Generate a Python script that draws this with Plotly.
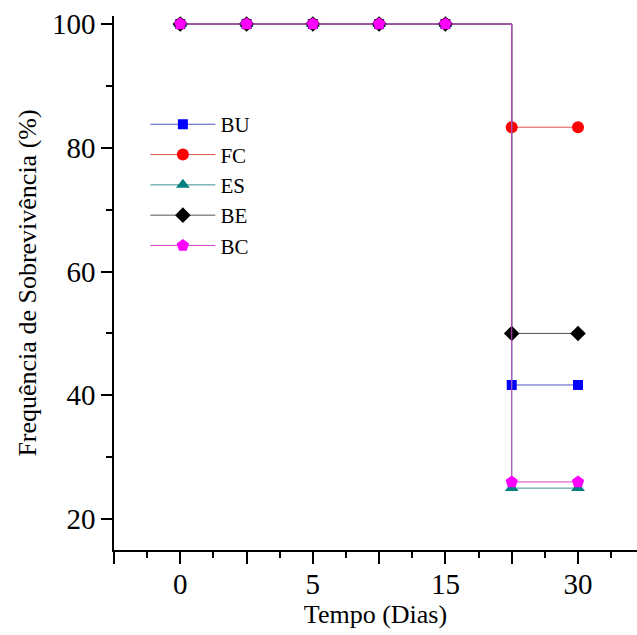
import plotly.graph_objects as go

# x positions are category indices; only some are labelled on the axis
x_index = [0, 1, 2, 3, 4, 5, 6]
x_tick_vals = [-1, 0, 1, 2, 3, 4, 5, 6]
x_tick_text = ["", "0", "", "5", "", "15", "", "30"]

names = ["BU", "FC", "ES", "BE", "BC"]
BU = [100, 100, 100, 100, 100, 41.67, 41.67]
FC = [100, 100, 100, 100, 100, 83.33, 83.33]
ES = [100, 100, 100, 100, 100, 25.0, 25.0]
BE = [100, 100, 100, 100, 100, 50.0, 50.0]
BC = [100, 100, 100, 100, 100, 26.0, 26.0]
values = [BU, FC, ES, BE, BC]

colors = ["#0000FF", "#FF0000", "#008080", "#000000", "#FF00FF"]
line_colors = ["#5555CC", "#E05050", "#409090", "#555555", "#CC44CC"]
symbols = ["square", "circle", "triangle-up", "diamond", "pentagon"]
sizes = [10, 12, 12, 12, 13]

FONT = "Liberation Serif"

fig = go.Figure()
for n, v, c, lc, s, sz in zip(names, values, colors, line_colors, symbols, sizes):
    fig.add_trace(go.Scatter(
        x=x_index, y=v, name=n, mode="lines+markers",
        line=dict(color=lc, width=1, shape="hv"),
        marker=dict(color=c, symbol=s, size=sz, line=dict(width=0)),
        hoverinfo="skip",
    ))

fig.update_layout(
    width=637, height=635,
    margin=dict(l=114, r=0, t=16, b=85),
    paper_bgcolor="white", plot_bgcolor="white",
    font=dict(family=FONT, color="black"),
    showlegend=True,
    legend=dict(
        x=0.06, y=0.835, xanchor="left", yanchor="top",
        font=dict(size=21, family=FONT, color="black"),
        bgcolor="rgba(0,0,0,0)", itemwidth=65, tracegroupgap=0,
    ),
    xaxis=dict(
        range=[-1, 6.89], tickmode="array", tickvals=x_tick_vals, ticktext=x_tick_text,
        showgrid=False, zeroline=False, showline=True, linecolor="black", linewidth=1.5,
        ticks="outside", ticklen=12, tickwidth=1.5, tickcolor="black",
        tickfont=dict(size=29, family=FONT, color="black"),
        ticklabelstandoff=-5,
        minor=dict(tickmode="array", tickvals=[-0.5, 0.5, 1.5, 2.5, 3.5, 4.5, 5.5, 6.5],
                   ticks="outside", ticklen=6, tickwidth=1.5, tickcolor="black", showgrid=False),
        title=dict(text="Tempo (Dias)", font=dict(size=26, family=FONT, color="black"), standoff=4),
    ),
    yaxis=dict(
        range=[15, 101.3], tickmode="array", tickvals=[20, 40, 60, 80, 100],
        showgrid=False, zeroline=False, showline=True, linecolor="black", linewidth=1.5,
        ticks="outside", ticklen=11, tickwidth=1.5, tickcolor="black",
        tickfont=dict(size=29, family=FONT, color="black"),
        minor=dict(tickmode="array", tickvals=[30, 50, 70, 90],
                   ticks="outside", ticklen=6, tickwidth=1.5, tickcolor="black", showgrid=False),
        title=dict(text="Frequência de Sobrevivência (%)", font=dict(size=26, family=FONT, color="black"), standoff=8),
    ),
)

fig.write_html("out.html")
